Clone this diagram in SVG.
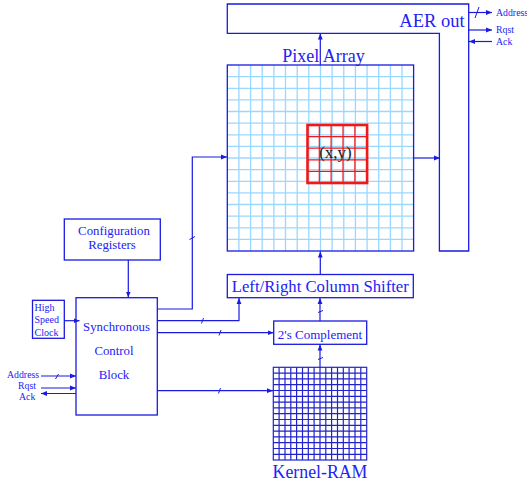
<svg xmlns="http://www.w3.org/2000/svg" width="527" height="482" viewBox="0 0 527 482">
<style>
text{font-family:"Liberation Serif",serif;fill:#2222f5}
.b{fill:none;stroke:#1a1ae0;stroke-width:1.3}
.c{fill:none;stroke:#1a1ae0;stroke-width:1.2}
.t{stroke:#1a1ae0;stroke-width:1;fill:none}
.g{fill:none;stroke:#9ad8ff;stroke-width:1.3}
.k{fill:none;stroke:#2222cc;stroke-width:1.2}
.r{fill:none;stroke:#f01818;stroke-width:1.2}
.m{text-anchor:middle}
</style>
<defs>
<marker id="a" markerUnits="userSpaceOnUse" markerWidth="7" markerHeight="6" refX="6" refY="3" orient="auto"><path d="M0,0.6L6,3L0,5.4Z" fill="#1a1ae0"/></marker>
</defs>
<rect width="527" height="482" fill="#fff"/>
<g id="aer-out">
<path class="b" d="M227.3,4H468.7V251H439.4V33.3H227.3Z"/>
<text x="432" y="27" font-size="18.5" text-anchor="middle">AER out</text>
<text x="496" y="16" font-size="9.8">Address</text>
<text x="496" y="33" font-size="9.8">Rqst</text>
<text x="496" y="45" font-size="9.8">Ack</text>
</g>
<g id="pixel-array">
<text x="323.5" y="62" font-size="18" class="m">Pixel Array</text>
<path class="g" d="M238.9,65V251M250.6,65V251M262.2,65V251M273.9,65V251M285.5,65V251M297.2,65V251M308.8,65V251M320.5,65V251M332.1,65V251M343.8,65V251M355.4,65V251M367.1,65V251M378.7,65V251M390.4,65V251M402,65V251M227.3,76.6H413.6M227.3,88.3H413.6M227.3,99.9H413.6M227.3,111.5H413.6M227.3,123.1H413.6M227.3,134.8H413.6M227.3,146.4H413.6M227.3,158H413.6M227.3,169.6H413.6M227.3,181.3H413.6M227.3,192.9H413.6M227.3,204.5H413.6M227.3,216.1H413.6M227.3,227.8H413.6M227.3,239.4H413.6"/>
<rect class="b" x="227.3" y="65" width="186.3" height="186"/>
<path class="r" d="M319.3,125V183M331.1,125V183M343,125V183M354.9,125V183M307.5,136.6H367M307.5,148.2H367M307.5,159.8H367M307.5,171.4H367"/>
<rect x="307.5" y="125" width="59.6" height="58" fill="none" stroke="#f01818" stroke-width="2.6"/>
<text x="335.5" y="158" font-size="17" class="m" style="fill:#222">(x,y)</text>
</g>
<g id="config-registers">
<rect class="b" x="64.3" y="219" width="96" height="41"/>
<text x="114" y="235" font-size="12.8" class="m">Configuration</text>
<text x="112" y="249" font-size="12.8" class="m">Registers</text>
</g>
<g id="high-speed-clock">
<rect class="b" x="32.5" y="300.3" width="31.8" height="38"/>
<text x="34.5" y="310.5" font-size="10">High</text>
<text x="34.5" y="323" font-size="10">Speed</text>
<text x="34.5" y="335.5" font-size="10">Clock</text>
</g>
<g id="synchronous-control-block">
<rect class="b" x="76" y="297.7" width="81.3" height="117.3"/>
<text x="116.5" y="331" font-size="12.8" class="m">Synchronous</text>
<text x="114" y="354.5" font-size="12.8" class="m">Control</text>
<text x="114" y="378.5" font-size="12.8" class="m">Block</text>
<text x="7" y="378" font-size="9.8">Address</text>
<text x="18" y="389" font-size="9.8">Rqst</text>
<text x="19" y="400" font-size="9.8">Ack</text>
</g>
<g id="column-shifter">
<rect class="b" x="227.3" y="274.5" width="186" height="23.2"/>
<text x="320.3" y="292" font-size="16.7" class="m">Left/Right Column Shifter</text>
</g>
<g id="twos-complement">
<rect class="b" x="273.7" y="321" width="93" height="23.3"/>
<text x="320" y="339" font-size="13" class="m">2's Complement</text>
</g>
<g id="kernel-ram">
<path class="k" d="M279.1,367.3V460M285,367.3V460M290.8,367.3V460M296.6,367.3V460M302.5,367.3V460M308.3,367.3V460M314.1,367.3V460M320,367.3V460M325.8,367.3V460M331.6,367.3V460M337.5,367.3V460M343.3,367.3V460M349.1,367.3V460M355,367.3V460M360.8,367.3V460M273.3,373.1H366.7M273.3,378.9H366.7M273.3,384.7H366.7M273.3,390.5H366.7M273.3,396.3H366.7M273.3,402.1H366.7M273.3,407.9H366.7M273.3,413.7H366.7M273.3,419.5H366.7M273.3,425.3H366.7M273.3,431.1H366.7M273.3,436.9H366.7M273.3,442.7H366.7M273.3,448.5H366.7M273.3,454.3H366.7"/>
<rect class="k" x="273.3" y="367.3" width="93.4" height="92.7"/>
<text x="320" y="478" font-size="17.8" class="m">Kernel-RAM</text>
</g>
<g id="connectors">
<path class="c" d="M320.3,65V33.5" marker-end="url(#a)"/>
<path class="c" d="M413.6,158H440" marker-end="url(#a)"/>
<path class="c" d="M320.3,274.5V251.5" marker-end="url(#a)"/>
<path class="c" d="M468.7,12.5H492" marker-end="url(#a)"/>
<path class="t" d="M475,18L479,7"/>
<path class="c" d="M468.7,30H492" marker-end="url(#a)"/>
<path class="c" d="M492,41.5H469" marker-end="url(#a)"/>
<path class="c" d="M128.3,260V297.5" marker-end="url(#a)"/>
<path class="c" d="M64.3,320.7H79.5" marker-end="url(#a)"/>
<path class="c" d="M41,376H76" marker-end="url(#a)"/>
<path class="t" d="M55.5,379L58.5,374"/>
<path class="c" d="M41,388H76" marker-end="url(#a)"/>
<path class="c" d="M76,393.5H41" marker-end="url(#a)"/>
<path class="c" d="M157.3,309H192.3V157H227" marker-end="url(#a)"/>
<path class="t" d="M189.5,239.5L195,236.5"/>
<path class="c" d="M157.3,320.7H239V298" marker-end="url(#a)"/>
<path class="t" d="M201.5,323.5L203.5,318"/>
<path class="c" d="M157.3,332.7H273.5" marker-end="url(#a)"/>
<path class="t" d="M219,335.5L221,330"/>
<path class="c" d="M320,321V298" marker-end="url(#a)"/>
<path class="t" d="M318,312.5L323,310.5"/>
<path class="c" d="M320,367.3V344.5" marker-end="url(#a)"/>
<path class="t" d="M318,359.5L323,357.5"/>
<path class="c" d="M157.3,390.7H273" marker-end="url(#a)"/>
<path class="t" d="M218.5,393.5L220.5,388"/>
</g>
</svg>
